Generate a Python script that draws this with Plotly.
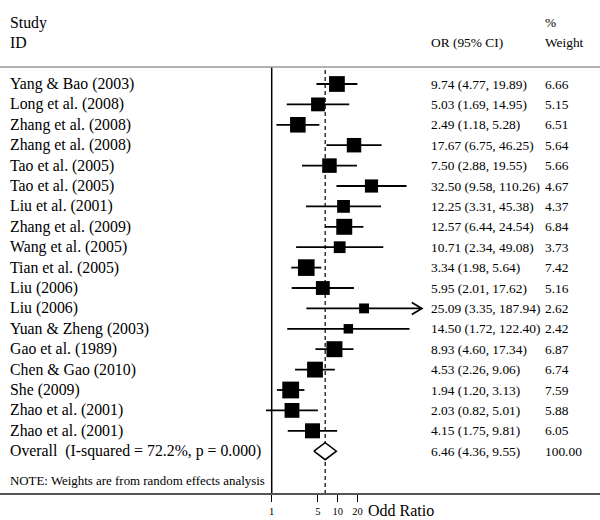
import math
import plotly.graph_objects as go

studies = ["Yang & Bao (2003)", "Long et al. (2008)", "Zhang et al. (2008)", "Zhang et al. (2008)",
           "Tao et al. (2005)", "Tao et al. (2005)", "Liu et al. (2001)", "Zhang et al. (2009)",
           "Wang et al. (2005)", "Tian et al. (2005)", "Liu (2006)", "Liu (2006)",
           "Yuan & Zheng (2003)", "Gao et al. (1989)", "Chen & Gao (2010)", "She (2009)",
           "Zhao et al. (2001)", "Zhao et al. (2001)"]
odds = [9.74, 5.03, 2.49, 17.67, 7.50, 32.50, 12.25, 12.57, 10.71, 3.34, 5.95, 25.09,
        14.50, 8.93, 4.53, 1.94, 2.03, 4.15]
ci_low = [4.77, 1.69, 1.18, 6.75, 2.88, 9.58, 3.31, 6.44, 2.34, 1.98, 2.01, 3.35,
          1.72, 4.60, 2.26, 1.20, 0.82, 1.75]
ci_high = [19.89, 14.95, 5.28, 46.25, 19.55, 110.26, 45.38, 24.54, 49.08, 5.64, 17.62, 187.94,
           122.40, 17.34, 9.06, 3.13, 5.01, 9.81]
weights = [6.66, 5.15, 6.51, 5.64, 5.66, 4.67, 4.37, 6.84, 3.73, 7.42, 5.16, 2.62,
           2.42, 6.87, 6.74, 7.59, 5.88, 6.05]
overall_label = "Overall\u00a0\u00a0(I-squared = 72.2%, p = 0.000)"
overall_or = 6.46
overall_low = 4.36
overall_high = 9.55
overall_weight = 100.00
arrow_rows = [11]  # CI exceeds the axis maximum
tick_vals = [1, 5, 10, 20]
tick_text = ["1", "5", "10", "20"]

FONT = "Liberation Serif, Times New Roman, serif"
W, H = 600, 520
BOTTOM = 493          # pixel of axis line
X1_PX, DEC_PX = 271.7, 66.0   # pixel position of OR=1 and px per decade
ROW0_PX, ROW_PX = 84.0, 20.4
NAME_SIZE = 15.8
NUM_SIZE = 13.4

def px_x(p):
    return p / W

def px_y(p):
    return (BOTTOM - p) / BOTTOM

n = len(studies)
rows = list(range(n))
overall_row = n

fig = go.Figure()

top_row = (67 - ROW0_PX) / ROW_PX
bot_row = (BOTTOM - ROW0_PX) / ROW_PX
# vertical no-effect line at OR = 1
fig.add_trace(go.Scatter(x=[1, 1], y=[top_row, bot_row], mode="lines",
                         line=dict(color="black", width=1.5), hoverinfo="skip"))
# dashed overall line
fig.add_trace(go.Scatter(x=[overall_or, overall_or], y=[top_row + 0.15, bot_row], mode="lines",
                         line=dict(color="black", width=1.2, dash="4px,3px"), hoverinfo="skip"))

# CI lines
xs, ys = [], []
for i in rows:
    xs += [ci_low[i], ci_high[i], None]
    ys += [i, i, None]
fig.add_trace(go.Scatter(x=xs, y=ys, mode="lines", line=dict(color="black", width=1.8),
                         hoverinfo="skip"))

# arrow heads (open chevron)
back = 10 / DEC_PX
half = 6 / ROW_PX
for i in arrow_rows:
    xe = ci_high[i]
    xb = xe / (10 ** back)
    fig.add_trace(go.Scatter(x=[xb, xe, xb], y=[i - half, i, i + half], mode="lines",
                             line=dict(color="black", width=1.8), hoverinfo="skip"))

# squares (area proportional to weight)
fig.add_trace(go.Scatter(x=odds, y=rows, mode="markers",
                         marker=dict(symbol="square", color="black", opacity=1,
                                     size=[6.1 * math.sqrt(w) for w in weights],
                                     line=dict(width=0)),
                         hoverinfo="skip"))

# overall diamond
dh = 8.5 / ROW_PX
fig.add_trace(go.Scatter(x=[overall_low, overall_or, overall_high, overall_or, overall_low],
                         y=[overall_row, overall_row - dh, overall_row, overall_row + dh, overall_row],
                         mode="lines", fill="toself", fillcolor="white",
                         line=dict(color="black", width=1.5), hoverinfo="skip"))

ann = []
def text(x_px, row, s, size, anchor="left"):
    ann.append(dict(x=px_x(x_px), xref="paper", y=row, yref="y", text=s, showarrow=False,
                    xanchor=anchor, yanchor="middle",
                    font=dict(family=FONT, size=size, color="black")))

# headers
text(8, -3.0, "Study", NAME_SIZE)
text(8, -2.02, "ID", NAME_SIZE)
text(429, -2.02, "OR (95% CI)", NUM_SIZE)
text(543, -3.0, "%", NUM_SIZE)
text(543, -2.02, "Weight", NUM_SIZE)

for i in rows:
    text(8, i, studies[i], NAME_SIZE)
    text(429, i, f"{odds[i]:.2f} ({ci_low[i]:.2f}, {ci_high[i]:.2f})", NUM_SIZE)
    text(543, i, f"{weights[i]:.2f}", NUM_SIZE)

text(8, overall_row, overall_label, NAME_SIZE)
text(429, overall_row, f"{overall_or:.2f} ({overall_low:.2f}, {overall_high:.2f})", NUM_SIZE)
text(543, overall_row, f"{overall_weight:.2f}", NUM_SIZE)

text(8, (481 - ROW0_PX) / ROW_PX, "NOTE: Weights are from random effects analysis", 12.9)

ann.append(dict(x=px_x(366), xref="paper", y=px_y(510), yref="paper", text="Odd Ratio",
                showarrow=False, xanchor="left", yanchor="middle",
                font=dict(family=FONT, size=16, color="black")))

shapes = [dict(type="line", xref="paper", yref="paper", x0=0, x1=1, y0=px_y(67), y1=px_y(67),
               line=dict(color="#999999", width=1.5))]

fig.update_layout(
    width=W, height=H,
    margin=dict(l=0, r=0, t=0, b=H - BOTTOM, pad=0),
    paper_bgcolor="white", plot_bgcolor="white",
    showlegend=False,
    annotations=ann, shapes=shapes,
    xaxis=dict(type="log", range=[-X1_PX / DEC_PX, (W - X1_PX) / DEC_PX],
               tickvals=tick_vals, ticktext=tick_text, ticks="outside", ticklen=7,
               tickwidth=1, tickcolor="black", showline=True, linecolor="#555555",
               linewidth=2, showgrid=False, zeroline=False,
               tickfont=dict(family=FONT, size=10.5, color="black"), fixedrange=True),
    yaxis=dict(range=[(BOTTOM - ROW0_PX) / ROW_PX, -ROW0_PX / ROW_PX], visible=False,
               fixedrange=True),
)

fig.write_html("out.html", config={"displayModeBar": False},
               post_script="document.body.style.margin='0';document.body.style.overflow='hidden';")
